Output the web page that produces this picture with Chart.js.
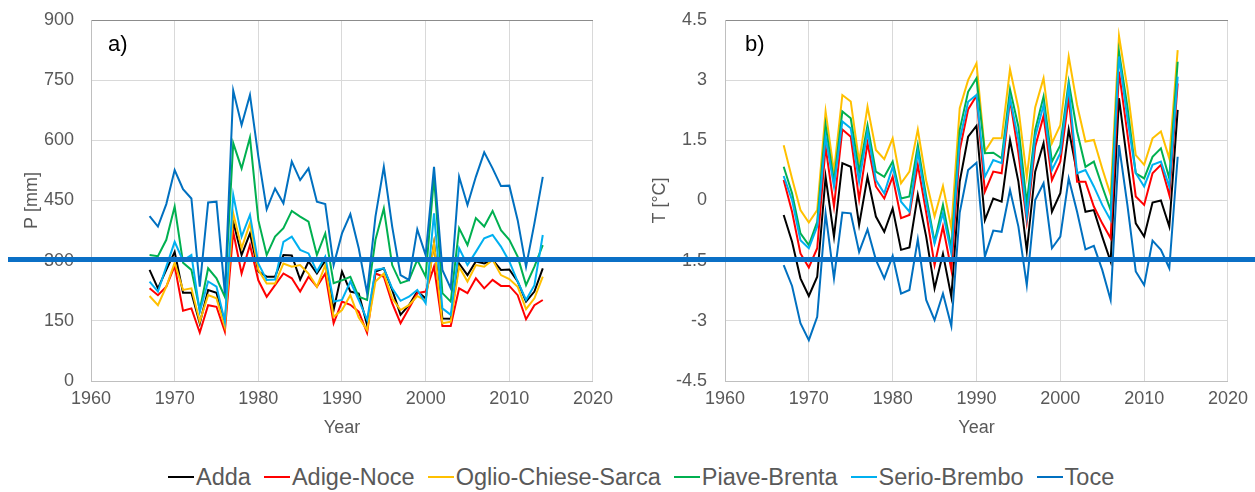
<!DOCTYPE html>
<html>
<head>
<meta charset="utf-8">
<script src="https://cdn.jsdelivr.net/npm/chart.js"></script>
<style>
  body { margin: 0; background: #fff; width: 1255px; height: 492px; position: relative; overflow: hidden; font-family: "Liberation Sans", Arial, sans-serif; }
  #graficoP { position: absolute; left: 0; top: 0; }
  #graficoT { position: absolute; left: 620px; top: 0; }
  /* linea horizontal azul que cruza los dos paneles */
  #linea { position: absolute; left: 8px; top: 257px; width: 1247px; height: 5px; background: #0b70c6; }
  #leyenda { position: absolute; left: 168px; top: 463px; display: flex; align-items: center; font-size: 23.5px; line-height: 28px; color: #595959; white-space: nowrap; }
  .item { display: flex; align-items: center; margin-right: 13px; }
  .muestra { width: 26px; height: 2px; margin-right: 2px; }
</style>
</head>
<body>
<canvas id="graficoP" width="620" height="445"></canvas>
<canvas id="graficoT" width="635" height="445"></canvas>
<div id="linea"></div>
<div id="leyenda"></div>

<script>
// años de la serie
const anios = [1967, 1968, 1969, 1970, 1971, 1972, 1973, 1974, 1975, 1976, 1977, 1978, 1979, 1980, 1981, 1982,
  1983, 1984, 1985, 1986, 1987, 1988, 1989, 1990, 1991, 1992, 1993, 1994, 1995, 1996, 1997, 1998, 1999, 2000,
  2001, 2002, 2003, 2004, 2005, 2006, 2007, 2008, 2009, 2010, 2011, 2012, 2013, 2014];

const cuencas = ['Adda', 'Adige-Noce', 'Oglio-Chiese-Sarca', 'Piave-Brenta', 'Serio-Brembo', 'Toce'];
const colores = ['#000000', '#FF0000', '#FFC000', '#00B050', '#00B0F0', '#0070C0'];

// precipitacion P [mm]
const precipAdda = [277, 231, 277, 322, 220, 220, 144, 227, 220, 145, 397, 314, 368, 273, 260, 260, 314, 313, 253, 298, 268, 300, 177, 273, 223, 218, 140, 273, 281, 227, 165, 189, 223, 206, 343, 156, 155, 293, 264, 298, 293, 302, 277, 278, 248, 198, 223, 281];
const precipAdige = [231, 214, 235, 287, 175, 181, 121, 189, 185, 123, 372, 268, 339, 251, 210, 239, 268, 256, 223, 260, 235, 268, 144, 198, 190, 173, 120, 268, 260, 194, 144, 181, 219, 223, 285, 137, 137, 231, 219, 256, 231, 252, 237, 237, 214, 154, 189, 202];
const precipOglio = [212, 189, 235, 295, 227, 231, 148, 214, 206, 135, 418, 331, 393, 277, 243, 243, 293, 285, 289, 268, 235, 289, 160, 177, 214, 158, 127, 248, 268, 206, 177, 189, 212, 200, 343, 144, 148, 285, 248, 289, 285, 302, 264, 254, 235, 179, 206, 260];
const precipPiave = [314, 311, 352, 435, 295, 277, 177, 281, 256, 210, 593, 530, 607, 401, 314, 360, 381, 424, 410, 397, 314, 368, 244, 251, 260, 210, 202, 352, 430, 289, 244, 251, 302, 260, 509, 219, 198, 381, 339, 406, 385, 424, 376, 352, 310, 239, 285, 339];
const precipSerio = [248, 223, 285, 347, 300, 314, 173, 248, 235, 148, 464, 360, 414, 293, 252, 253, 347, 360, 327, 318, 273, 310, 198, 202, 248, 202, 152, 277, 281, 231, 200, 210, 227, 194, 418, 181, 165, 331, 289, 322, 356, 364, 335, 298, 248, 202, 239, 364];
const precipToce = [411, 385, 441, 526, 478, 455, 235, 445, 447, 219, 724, 638, 713, 560, 428, 480, 443, 547, 501, 530, 447, 441, 289, 368, 416, 331, 219, 410, 534, 385, 264, 252, 378, 314, 534, 277, 231, 509, 439, 509, 570, 530, 486, 487, 401, 285, 393, 509];

// temperatura T [°C]
const tempAdda = [-0.36, -1.03, -1.94, -2.38, -1.90, 0.59, -0.90, 0.93, 0.84, -0.61, 0.59, -0.40, -0.78, -0.20, -1.23, -1.17, 0.14, -0.90, -2.19, -1.33, -2.40, 0.47, 1.59, 1.86, -0.49, 0.05, -0.03, 1.51, 0.47, -1.25, 0.72, 1.43, -0.28, 0.18, 1.77, 0.68, -0.28, -0.24, -0.90, -1.52, 2.55, 0.93, -0.57, -0.90, -0.05, 0.00, -0.65, 2.26];
const tempAdige = [0.51, -0.28, -1.32, -1.67, -1.19, 1.34, -0.15, 1.77, 1.59, 0.03, 1.43, 0.35, 0.05, 0.59, -0.44, -0.36, 0.89, -0.30, -1.61, -0.65, -1.73, 1.26, 2.27, 2.61, 0.22, 0.72, 0.68, 2.51, 1.18, -0.53, 1.34, 2.11, 0.51, 0.97, 2.55, 0.47, 0.47, -0.15, -0.57, -0.94, 3.21, 1.67, 0.10, -0.11, 0.68, 0.89, 0.14, 2.92];
const tempOglio = [1.38, 0.55, -0.24, -0.55, -0.24, 2.22, 0.72, 2.63, 2.47, 0.97, 2.34, 1.26, 1.03, 1.55, 0.43, 0.72, 1.77, 0.50, -0.40, 0.36, -0.69, 2.30, 3.00, 3.42, 1.22, 1.55, 1.55, 3.27, 2.30, 0.59, 2.32, 3.05, 1.43, 1.88, 3.59, 2.38, 1.47, 1.51, 0.80, 0.14, 4.10, 2.80, 1.13, 0.89, 1.55, 1.72, 1.05, 3.75];
const tempPiave = [0.84, 0.18, -0.82, -1.11, -0.53, 1.88, 0.47, 2.22, 2.05, 0.72, 1.88, 0.72, 0.59, 0.97, 0.05, 0.10, 1.38, 0.10, -1.03, -0.11, -1.19, 1.76, 2.71, 3.05, 1.18, 1.19, 1.05, 2.77, 1.84, -0.07, 1.76, 2.59, 0.97, 1.38, 2.96, 1.72, 0.84, 0.97, 0.35, -0.24, 3.71, 2.34, 0.68, 0.55, 1.09, 1.30, 0.55, 3.46];
const tempSerio = [0.61, 0.01, -0.99, -1.19, -0.65, 1.59, 0.35, 1.97, 1.80, 0.47, 1.72, 0.51, 0.18, 0.84, -0.03, -0.28, 1.22, -0.05, -1.07, -0.32, -1.32, 1.51, 2.46, 2.63, 0.59, 1.01, 0.93, 2.55, 1.51, -0.40, 1.59, 2.38, 0.76, 1.18, 2.84, 0.68, 0.76, 0.35, -0.11, -0.49, 3.59, 2.05, 0.68, 0.35, 0.89, 0.97, 0.35, 3.09];
const tempToce = [-1.61, -2.13, -3.06, -3.48, -2.90, -0.32, -1.94, -0.30, -0.32, -1.28, -0.72, -1.48, -1.94, -1.38, -2.32, -2.23, -0.97, -2.48, -2.98, -2.32, -3.13, -0.30, 0.76, 0.94, -1.40, -0.75, -0.78, 0.26, -0.65, -2.11, 0.01, 0.43, -1.19, -0.90, 0.55, -0.28, -1.22, -1.13, -1.73, -2.48, 1.38, -0.11, -1.77, -2.11, -1.00, -1.23, -1.69, 1.09];

// marcas de los ejes
const ticksAnio = [1960, 1970, 1980, 1990, 2000, 2010, 2020];
const ticksP = [0, 150, 300, 450, 600, 750, 900];
const ticksT = [-4.5, -3, -1.5, 0, 1.5, 3, 4.5];

const fuente = '"Liberation Sans", Arial, sans-serif';
const gris = '#595959';

// dibuja la letra del panel dentro del area del grafico
const letraPanel = {
  id: 'letraPanel',
  afterDraw(chart, args, opts) {
    const ctx = chart.ctx;
    ctx.save();
    ctx.font = '22px ' + fuente;
    ctx.fillStyle = '#000';
    ctx.textBaseline = 'middle';
    ctx.fillText(opts.texto, chart.chartArea.left + opts.dx, chart.chartArea.top + 25);
    ctx.restore();
  }
};

function armarDatasets(series) {
  return series.map((valores, i) => ({
    label: cuencas[i],
    data: valores.map((v, j) => ({ x: anios[j], y: v })),
    borderColor: colores[i],
    backgroundColor: colores[i],
    borderWidth: 2,
    pointRadius: 0,
    tension: 0,
    order: series.length - i
  }));
}

function crearGrafico(idCanvas, series, cfg) {
  const marcasY = cfg.marcas;
  const maxY = marcasY[marcasY.length - 1];
  return new Chart(document.getElementById(idCanvas), {
    type: 'line',
    data: { datasets: armarDatasets(series) },
    options: {
      responsive: false,
      animation: false,
      layout: { padding: { left: 0, right: cfg.derecha, top: 20, bottom: 0 } },
      plugins: {
        legend: { display: false },
        tooltip: { enabled: false },
        letraPanel: { texto: cfg.letra, dx: cfg.dxLetra }
      },
      scales: {
        x: {
          type: 'linear',
          min: 1960,
          max: 2020,
          afterBuildTicks: s => { s.ticks = ticksAnio.map(v => ({ value: v })); },
          afterFit: s => { s.height = 64; },
          grid: { color: '#d9d9d9', drawTicks: false },
          border: { color: '#bfbfbf' },
          ticks: { color: gris, font: { family: fuente, size: 18 }, padding: 7, callback: v => String(v), maxRotation: 0 },
          title: { display: true, text: 'Year', color: gris, font: { family: fuente, size: 18 }, padding: { top: 0, bottom: 6 } }
        },
        y: {
          min: marcasY[0],
          max: maxY,
          afterBuildTicks: s => { s.ticks = marcasY.map(v => ({ value: v })); },
          // el padding de las etiquetas no debe empujar el area hacia abajo
          afterFit: s => { s.width = cfg.anchoY; s.paddingTop = 10; s.paddingBottom = 10; },
          grid: {
            color: c => (c.tick && c.tick.value === maxY) ? '#8c8c8c' : '#d9d9d9',
            drawTicks: false
          },
          border: { color: '#bfbfbf' },
          ticks: { color: gris, font: { family: fuente, size: 18 }, padding: cfg.padTicks, callback: v => String(Number(v.toFixed(1))) },
          title: { display: true, text: cfg.tituloY, color: gris, font: { family: fuente, size: 18 }, padding: { top: cfg.padTitulo, bottom: 0 } }
        }
      }
    },
    plugins: [letraPanel]
  });
}

crearGrafico('graficoP', [precipAdda, precipAdige, precipOglio, precipPiave, precipSerio, precipToce], {
  marcas: ticksP, tituloY: 'P [mm]', letra: 'a)', dxLetra: 17, anchoY: 91, derecha: 27, padTicks: 17, padTitulo: 21
});

crearGrafico('graficoT', [tempAdda, tempAdige, tempOglio, tempPiave, tempSerio, tempToce], {
  marcas: ticksT, tituloY: 'T [°C]', letra: 'b)', dxLetra: 20, anchoY: 105, derecha: 26, padTicks: 18, padTitulo: 29
});

// leyenda comun abajo
const leyenda = document.getElementById('leyenda');
cuencas.forEach((nombre, i) => {
  const item = document.createElement('span');
  item.className = 'item';
  const muestra = document.createElement('span');
  muestra.className = 'muestra';
  muestra.style.background = colores[i];
  item.appendChild(muestra);
  item.appendChild(document.createTextNode(nombre));
  leyenda.appendChild(item);
});
</script>
</body>
</html>
